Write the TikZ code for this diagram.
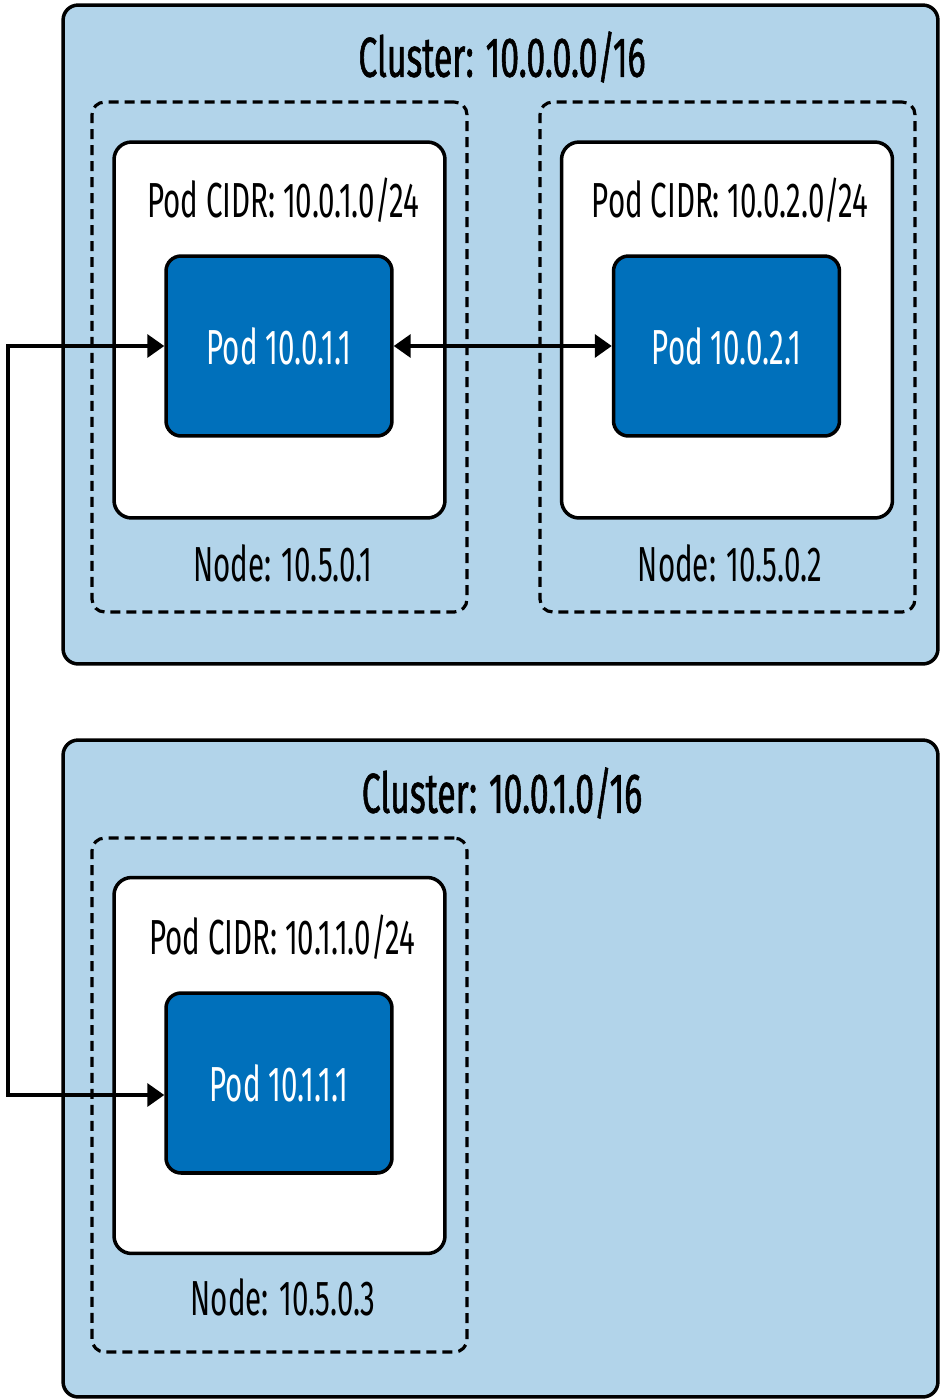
\documentclass[tikz,border=0pt]{standalone}
\usepackage{fontspec}
\usepackage{xcolor}
\usepackage{tikz}
\usetikzlibrary{arrows.meta,calc,positioning}

\newfontfamily\labelfont[FakeStretch=0.6]{Fira Sans}
\newfontfamily\titlefont[FakeStretch=0.6,FakeBold=1]{Fira Sans}
\definecolor{clusterfill}{RGB}{178,212,234}
\definecolor{podfill}{RGB}{0,112,187}

\begin{document}
\begin{tikzpicture}[
    x=0.02cm,
    y=-0.02cm,
    font=\labelfont\fontsize{28}{32}\selectfont,
    cluster/.style={draw=black,line width=2pt,fill=clusterfill,
                    rounded corners=0.3cm,inner sep=0pt,minimum width=17.5cm},
    host/.style={draw=black,line width=1.8pt,dash pattern=on 0.2cm off 0.12cm,
                 rounded corners=0.25cm,inner sep=0pt,minimum width=7.5cm},
    cidr/.style={draw=black,line width=2pt,fill=white,rounded corners=0.35cm,
                 inner sep=0pt,minimum width=6.62cm,minimum height=7.52cm},
    pod/.style={draw=black,line width=2pt,fill=podfill,text=white,
                rounded corners=0.3cm,inner sep=0pt,
                minimum width=4.52cm,minimum height=3.6cm},
    title/.style={font=\titlefont\fontsize{32}{36}\selectfont},
    link/.style={{Triangle[length=0.34cm,width=0.46cm]}-{Triangle[length=0.34cm,width=0.46cm]},
                 draw=black,line width=2pt}
]

\useasboundingbox (0,0) rectangle (941,1400);

\node[cluster,minimum height=13.18cm] (clusterA) at (500.5,334.5) {};
\node[title] (clusterAname) at (502,57) {Cluster: 10.0.0.0/16};

\node[host,minimum height=10.2cm] (hostA) at (279.5,357) {};
\node[cidr] (cidrA) at (279.5,330) {};
\node (cidrAname) at (283,200) {Pod CIDR: 10.0.1.0/24};
\node[pod] (podA) at (279,346) {Pod 10.0.1.1};
\node (hostAname) at (283,563) {Node: 10.5.0.1};

\node[host,minimum height=10.2cm] (hostB) at (727.5,357) {};
\node[cidr] (cidrB) at (727,330) {};
\node (cidrBname) at (730,200) {Pod CIDR: 10.0.2.0/24};
\node[pod] (podB) at (726.5,346) {Pod 10.0.2.1};
\node (hostBname) at (730,563) {Node: 10.5.0.2};

\node[cluster,minimum height=13.14cm] (clusterC) at (500.5,1068.5) {};
\node[title] (clusterCname) at (502,793) {Cluster: 10.0.1.0/16};

\node[host,minimum height=10.28cm] (hostC) at (279.5,1095) {};
\node[cidr] (cidrC) at (279.5,1065.5) {};
\node (cidrCname) at (282,937) {Pod CIDR: 10.1.1.0/24};
\node[pod] (podC) at (279,1083) {Pod 10.1.1.1};
\node (hostCname) at (283,1297) {Node: 10.5.0.3};

\coordinate (wire) at (8,0);

\draw[link] (podA.east) -- (podB.west);
\draw[link] (podA.west) -- (podA.west -| wire) |- ($(podC.west)+(0,12)$);

\end{tikzpicture}
\end{document}
